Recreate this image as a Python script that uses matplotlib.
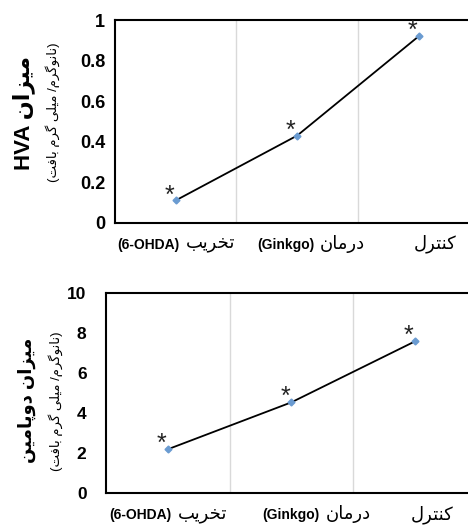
import matplotlib
matplotlib.use('Agg')
import matplotlib.pyplot as plt

plt.rcParams['font.family'] = ['Liberation Sans', 'DejaVu Sans']

# data
groups = ['تخریب', 'درمان', 'کنترل']
group_tags = ['(6-OHDA)', '(Ginkgo)', '']
hva = [0.11, 0.43, 0.92]
dopamine = [2.2, 4.55, 7.6]
hva_ticks = [0, 0.2, 0.4, 0.6, 0.8, 1]
da_ticks = [0, 2, 4, 6, 8, 10]
label_top = 'میزان'
label_da = 'میزان دوپامین'
unit = '(نانوگرم/ میلی گرم بافت)'

# matplotlib does no arabic shaping, so pick presentation forms by hand
FORMS = {
    'ا': ('\uFE8D', '\uFE8E', None, None),
    'ب': ('\uFE8F', '\uFE90', '\uFE91', '\uFE92'),
    'پ': ('\uFB56', '\uFB57', '\uFB58', '\uFB59'),
    'ت': ('\uFE95', '\uFE96', '\uFE97', '\uFE98'),
    'خ': ('\uFEA5', '\uFEA6', '\uFEA7', '\uFEA8'),
    'د': ('\uFEA9', '\uFEAA', None, None),
    'ر': ('\uFEAD', '\uFEAE', None, None),
    'ز': ('\uFEAF', '\uFEB0', None, None),
    'ف': ('\uFED1', '\uFED2', '\uFED3', '\uFED4'),
    'ک': ('\uFB8E', '\uFB8F', '\uFB90', '\uFB91'),
    'گ': ('\uFB92', '\uFB93', '\uFB94', '\uFB95'),
    'ل': ('\uFEDD', '\uFEDE', '\uFEDF', '\uFEE0'),
    'م': ('\uFEE1', '\uFEE2', '\uFEE3', '\uFEE4'),
    'ن': ('\uFEE5', '\uFEE6', '\uFEE7', '\uFEE8'),
    'و': ('\uFEED', '\uFEEE', None, None),
    'ی': ('\uFBFC', '\uFBFD', '\uFBFE', '\uFBFF'),
}


def rtl(text):
    out = []
    for i, c in enumerate(text):
        f = FORMS.get(c)
        if f is None:
            out.append(c)
            continue
        prev = text[i - 1] if i > 0 else None
        nxt = text[i + 1] if i + 1 < len(text) else None
        jp = prev in FORMS and FORMS[prev][2] is not None
        jn = nxt in FORMS and f[2] is not None
        out.append(f[3] if jp and jn else f[1] if jp else f[2] if jn else f[0])
    s = ''.join(reversed(out))
    return s.replace('(', '\0').replace(')', '(').replace('\0', ')')


xpos = list(range(len(groups)))
PX = 72 / 100  # pixels -> points

fig = plt.figure(figsize=(4.68, 5.27), dpi=100)
ax1 = fig.add_axes([0.2457, 0.5774, 0.7788, 0.3846])
ax2 = fig.add_axes([0.2265, 0.064, 0.7927, 0.3795])


def draw(ax, vals, ticks, tsize, tpad, joints):
    ax.plot(xpos, vals, color='black', lw=1.3, zorder=2)
    ax.plot(xpos, vals, ls='none', marker='D', ms=3.5, color='#6a9bd1', zorder=3)
    for x, v in zip(xpos, vals):
        ax.annotate('*', (x, v), xytext=(-4.5, -1.5), textcoords='offset points',
                    ha='center', va='baseline', fontsize=18, color='#222222')
    ax.set_xlim(-0.5, 2.5)
    ax.set_ylim(ticks[0], ticks[-1])
    ax.set_yticks(ticks)
    ax.set_yticklabels([f'{t:g}' for t in ticks], fontsize=tsize, fontweight='bold')
    ax.set_xticks([])
    ax.set_xticks([0.5, 1.5], minor=True)
    ax.grid(True, which='minor', axis='x', color='#d9d9d9', lw=1)
    ax.tick_params(axis='both', which='both', length=0)
    ax.tick_params(axis='y', pad=tpad)
    # category labels: latin part bold, persian part regular
    for x, g, t, j in zip(xpos, groups, group_tags, joints):
        if t:
            ax.annotate(t, (x, 0), xycoords=ax.get_xaxis_transform(),
                        xytext=((j - 3) * PX, -22 * PX), textcoords='offset points',
                        ha='right', va='center', fontsize=10, fontweight='bold')
        ax.annotate(rtl(g), (x, 0), xycoords=ax.get_xaxis_transform(),
                    xytext=((j + 3) * PX, -21 * PX), textcoords='offset points',
                    ha='left', va='center', fontsize=13)
    for s in ax.spines.values():
        s.set_linewidth(1.5)
        s.set_color('black')


draw(ax1, hva, hva_ticks, 13, 7, [7, 20, -8])
draw(ax2, dopamine, da_ticks, 12.5, 14, [7, 31, -7])

ax1.text(-0.252, 0.54, 'HVA ' + rtl(label_top), transform=ax1.transAxes, rotation=90,
         ha='center', va='center', fontsize=16, fontweight='bold')
ax1.text(-0.170, 0.545, rtl(unit), transform=ax1.transAxes, rotation=90,
         ha='center', va='center', fontsize=9.5)
ax2.text(-0.213, 0.467, rtl(label_da), transform=ax2.transAxes, rotation=90,
         ha='center', va='center', fontsize=13, fontweight='bold')
ax2.text(-0.137, 0.46, rtl(unit), transform=ax2.transAxes, rotation=90,
         ha='center', va='center', fontsize=9.5)

fig.savefig('out.png', dpi=100)
